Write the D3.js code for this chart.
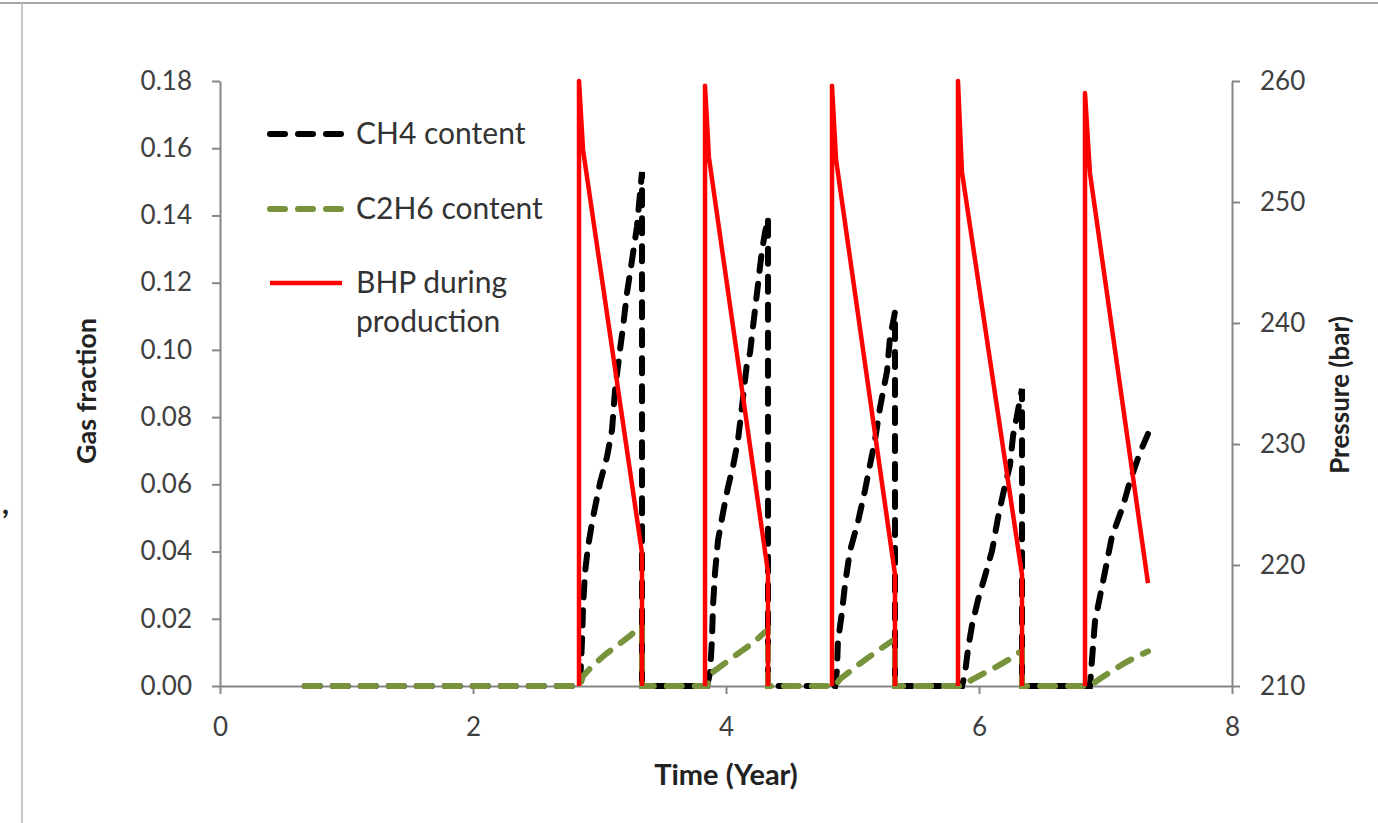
<!DOCTYPE html>
<html>
<head>
<meta charset="utf-8">
<script src="https://cdn.jsdelivr.net/npm/d3@7"></script>
<style>
  body { margin: 0; background: #fff; }
  text { font-family: Lato, "Open Sans", sans-serif; }
</style>
</head>
<body>
<div id="chart"></div>
<script>
// tick values
const timeTicks = [0, 2, 4, 6, 8];
const gasTicks = [0, 0.02, 0.04, 0.06, 0.08, 0.10, 0.12, 0.14, 0.16, 0.18];
const pressureTicks = [210, 220, 230, 240, 250, 260];

// CH4 content [time (year), gas fraction]
const ch4Data = [
  [0.67, 0], [2.846, 0], [2.862, 0.0137], [2.87, 0.0235], [2.885, 0.0336], [2.909, 0.0414],
  [2.949, 0.0503], [3.004, 0.0604], [3.059, 0.0681], [3.099, 0.0762], [3.123, 0.0881],
  [3.162, 0.100], [3.186, 0.1068], [3.217, 0.1169], [3.257, 0.1267], [3.296, 0.1366],
  [3.336, 0.1529], [3.336, 0],
  [3.85, 0], [3.874, 0.0039], [3.889, 0.0137], [3.897, 0.0235], [3.913, 0.0336], [3.937, 0.0434],
  [3.976, 0.0515], [4.016, 0.0592], [4.055, 0.0652], [4.095, 0.0732], [4.126, 0.083],
  [4.166, 0.0961], [4.19, 0.0991], [4.213, 0.1068], [4.245, 0.1169], [4.269, 0.1247],
  [4.285, 0.1297], [4.308, 0.1348], [4.332, 0.1392], [4.332, 0],
  [4.862, 0], [4.877, 0.0048], [4.885, 0.0134], [4.917, 0.022], [4.941, 0.0303], [4.98, 0.0402],
  [5.043, 0.0488], [5.099, 0.0583], [5.138, 0.0657], [5.178, 0.0732], [5.217, 0.0827],
  [5.273, 0.0937], [5.296, 0.1035], [5.336, 0.1113], [5.336, 0],
  [5.866, 0], [5.889, 0.0036], [5.913, 0.011], [5.945, 0.0181], [5.992, 0.0256], [6.047, 0.0327],
  [6.103, 0.0402], [6.15, 0.05], [6.19, 0.0571], [6.245, 0.0657], [6.269, 0.0744],
  [6.30, 0.0803], [6.34, 0.0884], [6.34, 0],
  [6.877, 0], [6.917, 0.0193], [6.98, 0.031], [7.051, 0.0445], [7.138, 0.0535],
  [7.194, 0.061], [7.273, 0.0695], [7.336, 0.0750]
];

// C2H6 content [time (year), gas fraction]
const c2h6Data = [
  [0.67, 0], [2.846, 0], [2.87, 0.003], [2.95, 0.0062], [3.05, 0.0095], [3.15, 0.0123],
  [3.25, 0.0152], [3.31, 0.0175], [3.336, 0.0178], [3.336, 0],
  [3.85, 0], [3.89, 0.004], [4.0, 0.007], [4.1, 0.0098], [4.22, 0.013], [4.30, 0.0158],
  [4.332, 0.0165], [4.332, 0],
  [4.862, 0], [4.90, 0.002], [5.0, 0.005], [5.1, 0.0078], [5.2, 0.0105], [5.336, 0.014], [5.336, 0],
  [5.866, 0], [5.95, 0.002], [6.05, 0.004], [6.15, 0.006], [6.25, 0.0082], [6.30, 0.0097],
  [6.34, 0.0103], [6.34, 0],
  [6.877, 0], [6.95, 0.002], [7.05, 0.0045], [7.15, 0.0068], [7.25, 0.0088], [7.336, 0.0103]
];

// BHP during production [time (year), pressure (bar)], null = shut in
const bhpData = [
  [2.838, 210], [2.838, 260], [2.87, 254.3], [3.336, 221.0], [3.336, 210], null,
  [3.834, 210], [3.834, 259.6], [3.865, 253.7], [4.332, 219.4], [4.332, 210], null,
  [4.838, 210], [4.838, 259.6], [4.87, 253.5], [5.336, 219.2], [5.336, 210], null,
  [5.834, 210], [5.834, 260], [5.865, 252.5], [6.34, 219.2], [6.34, 210], null,
  [6.838, 210], [6.838, 259.0], [6.877, 252.4], [7.336, 218.5]
];

const legendNames = ['CH4 content', 'C2H6 content', ['BHP during', 'production']];

var opt = {
  width: 1378,
  height: 823,
  plotLeft: 220,
  plotRight: 1232,
  plotTop: 81,
  plotBottom: 686,
  axisC: '#868686',
  textC: '#404040',
  ch4C: '#000000',
  c2h6C: '#77933c',
  bhpC: '#ff0000',
  dash: '15,13'
};

var svg = d3.select('#chart').append('svg')
  .attr('width', opt.width)
  .attr('height', opt.height);

// outer frame pieces
svg.append('line').attr('x1', 0).attr('y1', 3).attr('x2', opt.width).attr('y2', 3)
  .style('stroke', '#a6a6a6').style('stroke-width', 2);
svg.append('line').attr('x1', 22).attr('y1', 3).attr('x2', 22).attr('y2', opt.height)
  .style('stroke', '#c8c8c8').style('stroke-width', 2);
svg.append('text').text(',').attr('x', 2).attr('y', 514)
  .style('font-size', '30px').style('font-weight', 'bold').style('fill', '#222');

var x = d3.scaleLinear().domain([0, 8]).range([opt.plotLeft, opt.plotRight]);
var yGas = d3.scaleLinear().domain([0, 0.18]).range([opt.plotBottom, opt.plotTop]);
var yP = d3.scaleLinear().domain([210, 260]).range([opt.plotBottom, opt.plotTop]);

function styleAxis(g) {
  g.select('.domain').style('stroke', opt.axisC).style('stroke-width', 2);
  g.selectAll('.tick line').style('stroke', opt.axisC).style('stroke-width', 2);
  g.selectAll('.tick text').style('font-size', '26px').style('fill', opt.textC)
    .style('font-family', 'Lato, "Open Sans", sans-serif');
}

// 左轴
svg.append('g').attr('transform', 'translate(' + opt.plotLeft + ',0)')
  .call(d3.axisLeft(yGas).tickValues(gasTicks).tickFormat(d3.format('.2f'))
    .tickSize(8).tickSizeOuter(0).tickPadding(20))
  .call(styleAxis);

// 右轴
svg.append('g').attr('transform', 'translate(' + opt.plotRight + ',0)')
  .call(d3.axisRight(yP).tickValues(pressureTicks)
    .tickSize(8).tickSizeOuter(0).tickPadding(20))
  .call(styleAxis);

// 横轴
svg.append('g').attr('transform', 'translate(0,' + opt.plotBottom + ')')
  .call(d3.axisBottom(x).tickValues(timeTicks)
    .tickSize(8).tickSizeOuter(0).tickPadding(24))
  .call(styleAxis);

// axis titles
svg.append('text').text('Gas fraction')
  .attr('transform', 'translate(96,391) rotate(-90)')
  .attr('text-anchor', 'middle')
  .style('font-size', '27px').style('font-weight', 'bold').style('fill', '#222');
svg.append('text').text('Pressure (bar)')
  .attr('transform', 'translate(1349,395) rotate(-90)')
  .attr('text-anchor', 'middle')
  .style('font-size', '26px').style('font-weight', 'bold').style('fill', '#222');
svg.append('text').text('Time (Year)')
  .attr('x', 726).attr('y', 785)
  .attr('text-anchor', 'middle')
  .style('font-size', '29px').style('font-weight', 'bold').style('fill', '#222');

// series
var gasLine = d3.line().x(function (d) { return x(d[0]); }).y(function (d) { return yGas(d[1]); });
var bhpLine = d3.line().defined(function (d) { return d !== null; })
  .x(function (d) { return x(d[0]); }).y(function (d) { return yP(d[1]); });

svg.append('path').attr('d', gasLine(ch4Data))
  .style('fill', 'none').style('stroke', opt.ch4C).style('stroke-width', 6)
  .style('stroke-dasharray', opt.dash).style('stroke-linecap', 'round');
svg.append('path').attr('d', gasLine(c2h6Data))
  .style('fill', 'none').style('stroke', opt.c2h6C).style('stroke-width', 6)
  .style('stroke-dasharray', opt.dash).style('stroke-linecap', 'round');
svg.append('path').attr('d', bhpLine(bhpData))
  .style('fill', 'none').style('stroke', opt.bhpC).style('stroke-width', 4.5)
  .style('stroke-linejoin', 'round');

// legend
var legendColors = [opt.ch4C, opt.c2h6C, opt.bhpC];
var legendY = [134, 209, 283];
for (var i = 0; i < legendNames.length; i++) {
  var ln = svg.append('line')
    .attr('x1', 270).attr('y1', legendY[i]).attr('x2', 342).attr('y2', legendY[i])
    .style('stroke', legendColors[i]);
  if (i < 2) {
    ln.style('stroke-width', 6).style('stroke-dasharray', opt.dash).style('stroke-linecap', 'round');
  } else {
    ln.style('stroke-width', 4.5);
  }
  var names = [].concat(legendNames[i]);
  for (var j = 0; j < names.length; j++) {
    svg.append('text').text(names[j])
      .attr('x', 356).attr('y', legendY[i] + 10 + j * 39)
      .style('font-size', '30px').style('fill', '#333');
  }
}
</script>
</body>
</html>
